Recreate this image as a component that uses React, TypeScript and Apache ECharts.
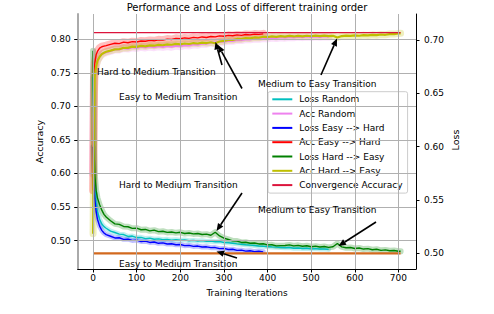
import React, { useEffect, useRef } from "react";
import * as echarts from "echarts";

// ---------------- data ----------------
const ITERS = [0, 2, 4, 7, 10, 15, 20, 25, 30, 40, 50, 60, 70, 80, 90, 100, 110, 120, 130, 140, 150, 160, 170, 180, 190, 200, 210, 220, 230, 240, 250, 260, 270, 280, 290, 300, 310, 320, 330, 340, 350, 360, 370, 380, 390, 400, 410, 420, 430, 440, 450, 460, 470, 480, 490, 500, 510, 520, 530, 540, 550, 560, 570, 580, 590, 600, 610, 620, 630, 640, 650, 660, 670, 680, 690, 700, 705];

const LOSS_RANDOM = [0.665, 0.585, 0.561, 0.547, 0.539, 0.532, 0.5275, 0.525, 0.5235,
  0.5208, 0.5195, 0.518, 0.5176, 0.5158, 0.5162, 0.5148, 0.515, 0.5138, 0.5142, 0.5132, 0.5135, 0.5128, 0.5131, 0.5124, 0.5127, 0.5122, 0.5126, 0.5118, 0.5121, 0.5115, 0.5119, 0.5112, 0.5114, 0.5108, 0.5111, 0.5102, 0.5099, 0.5094, 0.5089, 0.5085, 0.508, 0.5077, 0.5073, 0.5069, 0.5066, 0.5064, 0.506, 0.5058, 0.5055, 0.5052, 0.5054, 0.5048, 0.505, 0.5045, 0.5047, 0.5042, 0.5044, 0.504, 0.5041, 0.5037];

const ACC_RANDOM = [0.6, 0.72, 0.75, 0.763, 0.769, 0.7745, 0.778, 0.7795, 0.781,
  0.7828, 0.7851, 0.7849, 0.787, 0.7862, 0.7882, 0.7871, 0.789, 0.7879, 0.7894,
  0.7883, 0.7898, 0.7887, 0.7901, 0.789, 0.7906, 0.7897, 0.7914, 0.7908, 0.7926,
  0.7921, 0.7939, 0.7936, 0.7953, 0.7951, 0.7968, 0.7965, 0.798, 0.7978, 0.7993,
  0.7989, 0.8004, 0.8, 0.8013, 0.8008, 0.802, 0.8014, 0.8026, 0.802, 0.8031,
  0.8025, 0.8036, 0.803, 0.804, 0.8033, 0.8042, 0.8036, 0.8045, 0.8038, 0.8046, 0.8041];

const LOSS_EASY_HARD = [0.6, 0.566, 0.551, 0.539, 0.532, 0.5255, 0.5215, 0.519, 0.5175,
  0.516, 0.5144, 0.5146, 0.5131, 0.5133, 0.5121, 0.5124, 0.5111, 0.5114, 0.5102,
  0.5106, 0.5094, 0.5098, 0.5087, 0.509, 0.508, 0.5083, 0.5072, 0.5075, 0.5065,
  0.5068, 0.5059, 0.5061, 0.5053, 0.5054, 0.5044, 0.5046, 0.5036, 0.5038, 0.5028,
  0.503, 0.5021, 0.5024, 0.5016, 0.5019, 0.5014];

const ACC_EASY_HARD = [0.575, 0.74, 0.765, 0.777, 0.782, 0.787, 0.789, 0.7898, 0.7906,
  0.7925, 0.7942, 0.7936, 0.7958, 0.7949, 0.7966, 0.796, 0.7975, 0.7972, 0.7984,
  0.7978, 0.7993, 0.7988, 0.8004, 0.7997, 0.8015, 0.8008, 0.8021, 0.8014, 0.8029,
  0.8022, 0.8036, 0.8028, 0.8043, 0.8037, 0.8052, 0.8046, 0.806, 0.8053, 0.8066,
  0.806, 0.8072, 0.8067, 0.8078, 0.8074, 0.8082];

const LOSS_HARD_EASY = [0.69, 0.6, 0.573, 0.559, 0.552, 0.5455, 0.5405, 0.5365, 0.534,
  0.5305, 0.5276, 0.5271, 0.5252, 0.5249, 0.5234, 0.5236, 0.5221, 0.5224, 0.5211, 0.5217, 0.5203, 0.5207, 0.5196, 0.52, 0.5192, 0.5197, 0.5186, 0.5191, 0.5182, 0.5186, 0.5176, 0.518, 0.5169,
  0.5198, 0.5163, 0.5142, 0.513, 0.5117, 0.5115, 0.5102, 0.5104, 0.5094, 0.5097, 0.5088, 0.509, 0.5079, 0.508, 0.507, 0.5072, 0.5074, 0.5079, 0.507, 0.5075, 0.5066, 0.5071, 0.5062, 0.5067, 0.5059, 0.5064, 0.5056, 0.5062, 0.5092, 0.506, 0.5052, 0.5055, 0.5045, 0.505, 0.504, 0.5044, 0.5034, 0.5038, 0.5028, 0.5032, 0.5024, 0.5027, 0.502,
  0.5019];

const ACC_HARD_EASY = [0.51, 0.7, 0.745, 0.76, 0.768, 0.774, 0.778, 0.78, 0.7815,
  0.7832, 0.7851, 0.7852, 0.7874, 0.7872, 0.7891, 0.7888, 0.7903, 0.7896, 0.7911, 0.7905, 0.7918, 0.7912, 0.7925, 0.7919, 0.7932, 0.7926, 0.7938, 0.7931, 0.7945, 0.7938, 0.7951, 0.7945, 0.7957,
  0.7942, 0.7968, 0.7976, 0.7993, 0.799, 0.8006, 0.8003, 0.8018, 0.8014, 0.8028, 0.8024, 0.8038, 0.8033, 0.8045, 0.8038, 0.8048, 0.804, 0.8051, 0.8043, 0.8053, 0.8044, 0.8054, 0.8046, 0.8055, 0.8047, 0.8056, 0.8048, 0.8053, 0.8028, 0.8049, 0.8056, 0.8051, 0.806, 0.8054, 0.8063, 0.8058, 0.8067, 0.8062, 0.8072, 0.8068, 0.8079, 0.8078, 0.8089,
  0.809];

const CONV_ACC = 0.81;
const CONV_LOSS = 0.5;

const X_TICKS = [0, 100, 200, 300, 400, 500, 600, 700];
const ACC_TICKS = [0.5, 0.55, 0.6, 0.65, 0.7, 0.75, 0.8];
const LOSS_TICKS = [0.5, 0.55, 0.6, 0.65, 0.7];

const TITLE = "Performance and Loss of different training order";
const X_NAME = "Training Iterations";
const Y_LEFT_NAME = "Accuracy";
const Y_RIGHT_NAME = "Loss";

// ---------------- styling ----------------
const FONT = "DejaVu Sans";

const SERIES = [
  { name: "Loss Random", values: LOSS_RANDOM, axis: 1, color: "#00bfbf", width: 1.4, band: 5 },
  { name: "Acc Random", values: ACC_RANDOM, axis: 0, color: "#ee82ee", width: 2.2, band: 8 },
  { name: "Loss Easy --> Hard", values: LOSS_EASY_HARD, axis: 1, color: "#0000ff", width: 1.4, band: 5 },
  { name: "Acc Easy --> Hard", values: ACC_EASY_HARD, axis: 0, color: "#ff0000", width: 1.4, band: 8 },
  { name: "Loss Hard --> Easy", values: LOSS_HARD_EASY, axis: 1, color: "#008000", width: 1.4, band: 6 },
  { name: "Acc Hard --> Easy", values: ACC_HARD_EASY, axis: 0, color: "#bfbf00", width: 2.2, band: 7 },
];

const ANNOTATIONS = [
  { text: "Hard to Medium Transition", tx: 97, ty: 72, from: [222, 65], to: [215.5, 42] },
  { text: "Easy to Medium Transition", tx: 119, ty: 97, from: [242, 88.5], to: [218, 45] },
  { text: "Medium to Easy Transition", tx: 258, ty: 83.5, from: [321, 75], to: [337, 38.5] },
  { text: "Hard to Medium Transition", tx: 119, ty: 184.5, from: [242, 193], to: [216.5, 231] },
  { text: "Medium to Easy Transition", tx: 258, ty: 210, from: [376, 222], to: [338.5, 246] },
  { text: "Easy to Medium Transition", tx: 119, ty: 264, from: [237, 258], to: [216.5, 251.5] },
];

function pair(vals: number[]) {
  return vals.map((v, i) => [ITERS[i], v]);
}

function arrow(x1: number, y1: number, x2: number, y2: number) {
  const dx = x2 - x1, dy = y2 - y1;
  const L = Math.hypot(dx, dy);
  const ux = dx / L, uy = dy / L;
  const hl = 7.5, hw = 3.2;
  const bx = x2 - ux * hl, by = y2 - uy * hl;
  return [
    { type: "line", silent: true, z: 20, shape: { x1, y1, x2: bx, y2: by }, style: { stroke: "#000", lineWidth: 1.6 } },
    {
      type: "polygon", silent: true, z: 20,
      shape: { points: [[x2, y2], [bx - uy * hw, by + ux * hw], [bx + uy * hw, by - ux * hw]] },
      style: { fill: "#000" },
    },
  ];
}

function txt(text: string, x: number, y: number, opts: any = {}) {
  return {
    type: "text", silent: true, z: 20, x, y, rotation: opts.rotation || 0,
    style: {
      text, fill: "#000", fontSize: opts.fontSize || 9, fontFamily: FONT,
      align: opts.align || "left", verticalAlign: "middle",
      textAlign: opts.align || "left", textVerticalAlign: "middle",
    },
  };
}

export default function App() {
  const ref = useRef<HTMLDivElement>(null);
  useEffect(() => {
    if (!ref.current) return;
    const chart = echarts.init(ref.current, null, { renderer: "svg" });
    const first = ITERS[0];
    const last = ITERS[ITERS.length - 1];

    const series: any[] = [];
    // grid lines
    series.push({
      type: "line", name: "_grid", yAxisIndex: 0, data: [[first, CONV_ACC]], symbol: "none",
      lineStyle: { opacity: 0 }, z: 0, silent: true,
      markLine: {
        silent: true, symbol: ["none", "none"], label: { show: false }, animation: false,
        lineStyle: { color: "#b0b0b0", width: 1, type: "solid" },
        data: [...X_TICKS.map((x) => ({ xAxis: x })), ...ACC_TICKS.map((y) => ({ yAxis: y }))],
      },
    });
    // std bands
    SERIES.forEach((s) => {
      series.push({
        type: "line", name: s.name + " std", yAxisIndex: s.axis, data: pair(s.values), symbol: "none",
        silent: true, z: 1,
        lineStyle: { color: s.color, width: s.band, opacity: 0.25, cap: "round", join: "round" },
      });
    });
    SERIES.forEach((s) => {
      series.push({
        type: "line", name: s.name, yAxisIndex: s.axis, data: pair(s.values), symbol: "none",
        silent: true, z: 3, color: s.color, itemStyle: { color: s.color },
        lineStyle: { color: s.color, width: s.width },
      });
    });
    series.push({
      type: "line", name: "Convergence Accuracy", yAxisIndex: 0,
      data: [[first, CONV_ACC], [last, CONV_ACC]], symbol: "none", silent: true, z: 4,
      color: "#dc143c", itemStyle: { color: "#dc143c" }, lineStyle: { color: "#dc143c", width: 1.4 },
    });
    series.push({
      type: "line", name: "Convergence Loss", yAxisIndex: 1,
      data: [[first, CONV_LOSS], [last, CONV_LOSS]], symbol: "none", silent: true, z: 4,
      color: "#d2691e", lineStyle: { color: "#d2691e", width: 2.2 },
    });

    const graphic: any[] = [
      txt(Y_LEFT_NAME, 39, 141.5, { rotation: Math.PI / 2, align: "center", fontSize: 9.5 }),
      txt(Y_RIGHT_NAME, 455, 140, { rotation: Math.PI / 2, align: "center", fontSize: 9.5 }),
      txt(X_NAME, 247, 293, { align: "center" }),
    ];
    ANNOTATIONS.forEach((a) => {
      graphic.push(txt(a.text, a.tx, a.ty));
      graphic.push(...arrow(a.from[0], a.from[1], a.to[0], a.to[1]));
    });

    chart.setOption({
      animation: false,
      textStyle: { fontFamily: FONT },
      title: {
        text: TITLE, left: "center", top: 2, padding: 0,
        textStyle: { fontSize: 10, fontWeight: "normal", color: "#000", fontFamily: FONT },
      },
      grid: { left: 77.7, top: 14, width: 338.3, height: 255, containLabel: false },
      legend: {
        data: [...SERIES.map((s) => s.name), "Convergence Accuracy"],
        orient: "vertical", left: 268, top: 91.7,
        icon: "rect", itemWidth: 20, itemHeight: 2, itemGap: 2.3,
        padding: [1.6, 5, 2, 4.3],
        backgroundColor: "rgba(255,255,255,0.8)", borderColor: "#cccccc", borderWidth: 1, borderRadius: 2,
        textStyle: { fontSize: 9, color: "#000", lineHeight: 12, fontFamily: FONT, padding: [0, 0, 0, 2] },
        selectedMode: false,
      },
      xAxis: {
        type: "value", min: -35.25, max: 740.25,
        axisLine: { show: true, onZero: false, lineStyle: { color: "#000", width: 1 } },
        axisTick: { show: true, customValues: X_TICKS, length: 3.5, lineStyle: { color: "#000" } },
        axisLabel: { customValues: X_TICKS, fontSize: 9, color: "#000", margin: 4, fontFamily: FONT },
        splitLine: { show: false },
      },
      yAxis: [
        {
          type: "value", position: "left", min: 0.4575, max: 0.8378,
          axisLine: { show: true, onZero: false, lineStyle: { color: "#aaaaaa", width: 2 } },
          axisTick: { show: true, customValues: ACC_TICKS, length: 3.5, lineStyle: { color: "#000" } },
          axisLabel: {
            customValues: ACC_TICKS, fontSize: 9, color: "#000", margin: 7, fontFamily: FONT,
            formatter: (v: number) => v.toFixed(2),
          },
          splitLine: { show: false },
        },
        {
          type: "value", position: "right", min: 0.4853, max: 0.7244,
          axisLine: { show: true, onZero: false, lineStyle: { color: "#000", width: 1 } },
          axisTick: { show: true, customValues: LOSS_TICKS, length: 3.5, lineStyle: { color: "#000" } },
          axisLabel: {
            customValues: LOSS_TICKS, fontSize: 9, color: "#000", margin: 8, fontFamily: FONT,
            formatter: (v: number) => v.toFixed(2),
          },
          splitLine: { show: false },
        },
      ],
      series,
      graphic,
    });
    return () => chart.dispose();
  }, []);
  return <div ref={ref} style={{ position: "absolute", left: 0, top: 0, width: 494, height: 314 }} />;
}
